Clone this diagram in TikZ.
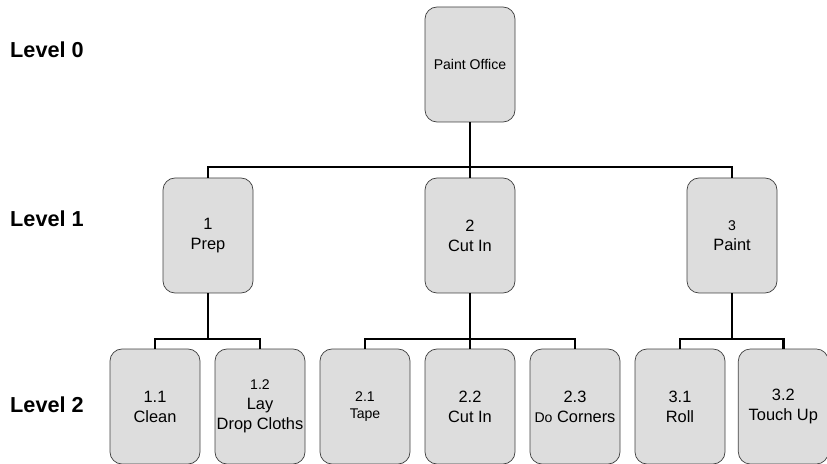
\documentclass[tikz,border=0pt]{standalone}
\usepackage{fontspec}
\setmainfont{Liberation Sans}
\usepackage{tikz}
\usetikzlibrary{positioning,calc}
\usepackage{xcolor}
\definecolor{boxgray}{HTML}{DDDDDD}
\definecolor{edgegray}{HTML}{404040}

\newcommand{\bigtxt}{\fontsize{14}{17}\selectfont}
\newcommand{\smalltxt}{\fontsize{12}{14}\selectfont}

\begin{document}
\begin{tikzpicture}[
    task/.style={draw=edgegray, rounded corners=0.36cm, fill=boxgray, minimum width=2.7cm, minimum height=3.45cm, align=center, font=\bigtxt, inner sep=1pt, line width=0.6pt},
    conn/.style={line width=2.5pt},
    lvl/.style={font=\fontsize{18.5}{21}\selectfont\bfseries, anchor=west, inner sep=0pt},
]
\useasboundingbox (0,0) rectangle (24.81,-13.92);

% Level labels
\node[lvl] (lvl0) at (0.3,-1.49) {Level 0};
\node[lvl] (lvl1) at (0.3,-6.57) {Level 1};
\node[lvl] (lvl2) at (0.3,-12.15) {Level 2};

% Level 0
\node[task, font=\smalltxt] (office) at (14.1,-1.935) {Paint Office};

% Level 1
\node[task] (prep) at (6.24,-7.065) {1\\Prep};
\node[task] (cutin) at (14.1,-7.065) {2\\Cut In};
\node[task] (paint) at (21.96,-7.065) {{\smalltxt 3}\\Paint};

% Level 2
\node[task] (clean) at (4.65,-12.195) {1.1\\Clean};
\node[task] (cloths) at (7.8,-12.195) {{\smalltxt 1.2}\\Lay\\Drop Cloths};
\node[task, font=\smalltxt] (tape) at (10.95,-12.195) {2.1\\Tape};
\node[task] (cutin2) at (14.1,-12.195) {2.2\\Cut In};
\node[task] (corners) at (17.25,-12.195) {2.3\\{\smalltxt Do} Corners};
\node[task] (roll) at (20.4,-12.195) {3.1\\Roll};
\node[task] (touchup) at (23.5,-12.195) {3.2\\Touch Up};

% Bus lines
\coordinate (bus0) at (14.1,-5.01);
\coordinate (bus1) at (6.24,-10.17);
\coordinate (bus2) at (14.1,-10.17);
\coordinate (bus3) at (21.96,-10.17);

\draw[conn] (office.south) -- (bus0);
\draw[conn] (bus0) -| (prep.north);
\draw[conn] (bus0) -- (cutin.north);
\draw[conn] (bus0) -| (paint.north);

\draw[conn] (prep.south) -- (bus1);
\draw[conn] (bus1) -| (clean.north);
\draw[conn] (bus1) -| (cloths.north);

\draw[conn] (cutin.south) -- (bus2);
\draw[conn] (bus2) -| (tape.north);
\draw[conn] (bus2) -- (cutin2.north);
\draw[conn] (bus2) -| (corners.north);

\draw[conn] (paint.south) -- (bus3);
\draw[conn] (bus3) -| (roll.north);
\draw[conn] (bus3) -| (touchup.north);

\end{tikzpicture}
\end{document}
